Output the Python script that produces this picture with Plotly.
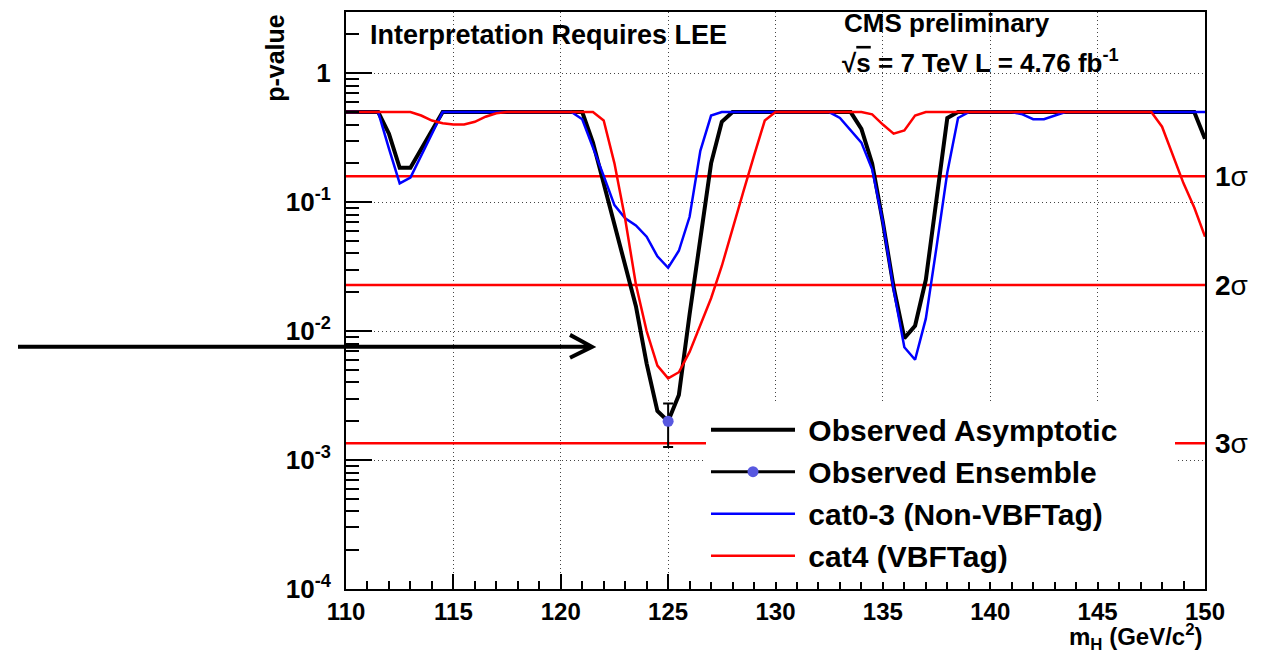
import math
import plotly.graph_objects as go

# Higgs mass hypotheses (GeV/c^2)
mass = [110.0, 110.5, 111.0, 111.5, 112.0, 112.5, 113.0, 113.5, 114.0, 114.5,
        115.0, 115.5, 116.0, 116.5, 117.0, 117.5, 118.0, 118.5, 119.0, 119.5,
        120.0, 120.5, 121.0, 121.5, 122.0, 122.5, 123.0, 123.5, 124.0, 124.5,
        125.0, 125.5, 126.0, 126.5, 127.0, 127.5, 128.0, 128.5, 129.0, 129.5,
        130.0, 130.5, 131.0, 131.5, 132.0, 132.5, 133.0, 133.5, 134.0, 134.5,
        135.0, 135.5, 136.0, 136.5, 137.0, 137.5, 138.0, 138.5, 139.0, 139.5,
        140.0, 140.5, 141.0, 141.5, 142.0, 142.5, 143.0, 143.5, 144.0, 144.5,
        145.0, 145.5, 146.0, 146.5, 147.0, 147.5, 148.0, 148.5, 149.0, 149.5,
        150.0]

obs_asymptotic = [0.5, 0.5, 0.5, 0.5, 0.34, 0.185, 0.185, 0.26, 0.36, 0.5,
                  0.5, 0.5, 0.5, 0.5, 0.5, 0.5, 0.5, 0.5, 0.5, 0.5,
                  0.5, 0.5, 0.5, 0.29, 0.14, 0.067, 0.032, 0.0156, 0.0056, 0.0024,
                  0.002, 0.0032, 0.0135, 0.055, 0.2, 0.42, 0.5, 0.5, 0.5, 0.5,
                  0.5, 0.5, 0.5, 0.5, 0.5, 0.5, 0.5, 0.5, 0.37, 0.2,
                  0.07, 0.022, 0.0088, 0.011, 0.025, 0.1, 0.45, 0.5, 0.5, 0.5,
                  0.5, 0.5, 0.5, 0.5, 0.5, 0.5, 0.5, 0.5, 0.5, 0.5,
                  0.5, 0.5, 0.5, 0.5, 0.5, 0.5, 0.5, 0.5, 0.5, 0.5,
                  0.31]

cat03_nonvbf = [0.5, 0.5, 0.5, 0.5, 0.26, 0.14, 0.155, 0.23, 0.34, 0.5,
                0.5, 0.5, 0.5, 0.5, 0.5, 0.5, 0.5, 0.5, 0.5, 0.5,
                0.5, 0.5, 0.44, 0.27, 0.16, 0.095, 0.075, 0.066, 0.054, 0.038,
                0.031, 0.042, 0.077, 0.25, 0.47, 0.5, 0.5, 0.5, 0.5, 0.5,
                0.5, 0.5, 0.5, 0.5, 0.5, 0.5, 0.45, 0.36, 0.29, 0.18,
                0.07, 0.021, 0.0075, 0.006, 0.0125, 0.045, 0.17, 0.45, 0.5, 0.5,
                0.5, 0.5, 0.5, 0.48, 0.44, 0.44, 0.47, 0.5, 0.5, 0.5,
                0.5, 0.5, 0.5, 0.5, 0.5, 0.5, 0.5, 0.5, 0.5, 0.5,
                0.5]

cat4_vbf = [0.5, 0.5, 0.5, 0.5, 0.5, 0.5, 0.5, 0.47, 0.43, 0.41,
            0.40, 0.40, 0.42, 0.46, 0.49, 0.5, 0.5, 0.5, 0.5, 0.5,
            0.5, 0.5, 0.5, 0.5, 0.43, 0.20, 0.074, 0.023, 0.01, 0.0054,
            0.0043, 0.0048, 0.0069, 0.011, 0.018, 0.032, 0.063, 0.12, 0.23, 0.43,
            0.5, 0.5, 0.5, 0.5, 0.5, 0.5, 0.5, 0.5, 0.5, 0.48,
            0.40, 0.34, 0.36, 0.47, 0.5, 0.5, 0.5, 0.5, 0.5, 0.5,
            0.5, 0.5, 0.5, 0.5, 0.5, 0.5, 0.5, 0.5, 0.5, 0.5,
            0.5, 0.5, 0.5, 0.5, 0.5, 0.5, 0.385, 0.23, 0.14, 0.091,
            0.054]

ens_mass = [125.0]
ens_p = [0.002]
ens_err_up = [0.00074]
ens_err_down = [0.00074]

sigma_labels = ["1σ", "2σ", "3σ"]
sigma_p = [0.1587, 0.02275, 0.00135]
x_range = [110, 150]

ytick_vals = [1e-4, 1e-3, 1e-2, 1e-1, 1]
ytick_text = ["10<sup>-4</sup>", "10<sup>-3</sup>", "10<sup>-2</sup>", "10<sup>-1</sup>", "1"]
yminor_vals = [m * 10 ** e for e in range(-4, 1) for m in range(2, 10)]

FONT = "Liberation Sans, Arial, Helvetica, sans-serif"
NB = "\u00a0"

# the page body adds an 8 px offset; margins compensate so the frame lands at
# x 346..1205, y 10..589 of the window
OFF = 8
ML, MT = 346 - OFF, 10 - OFF
PW, PH = 859, 579

fig = go.Figure()

for sp in sigma_p:
    fig.add_trace(go.Scatter(x=x_range, y=[sp, sp], mode="lines",
                             line=dict(color="#ff0000", width=2.5),
                             showlegend=False, hoverinfo="skip"))

fig.add_trace(go.Scatter(x=mass, y=obs_asymptotic, mode="lines",
                         name=NB + "Observed Asymptotic", legendgroup="a",
                         line=dict(color="black", width=4)))
fig.add_trace(go.Scatter(x=ens_mass, y=ens_p, mode="lines+markers",
                         name=NB + "Observed Ensemble", legendgroup="b",
                         line=dict(color="black", width=3),
                         marker=dict(color="#5858e0", size=11),
                         error_y=dict(type="data", array=ens_err_up,
                                      arrayminus=ens_err_down, color="black",
                                      thickness=2, width=5)))
fig.add_trace(go.Scatter(x=mass, y=cat03_nonvbf, mode="lines",
                         name=NB + "cat0-3 (Non-VBFTag)" + NB * 8, legendgroup="c",
                         line=dict(color="#0000ff", width=2.5)))
fig.add_trace(go.Scatter(x=mass, y=cat4_vbf, mode="lines",
                         name=NB + "cat4 (VBFTag)", legendgroup="d",
                         line=dict(color="#ff0000", width=2.5)))


def px2paper(px, py):
    return (px - 346) / PW, (589 - py) / PH


annotations = [
    dict(text="Interpretation Requires LEE", xref="paper", yref="paper",
         x=px2paper(368, 0)[0], y=px2paper(0, 33)[1], xanchor="left", yanchor="middle",
         showarrow=False,
         font=dict(size=27, family=FONT, color="black", weight="bold")),
    dict(text="CMS preliminary", xref="paper", yref="paper",
         x=px2paper(842, 0)[0], y=px2paper(0, 21)[1], xanchor="left", yanchor="middle",
         showarrow=False,
         font=dict(size=26, family=FONT, color="black", weight="bold")),
    dict(text="√<span style='text-decoration:overline'>s</span> = 7 TeV L = 4.76 fb<sup>-1</sup>",
         xref="paper", yref="paper",
         x=px2paper(840, 0)[0], y=px2paper(0, 60)[1], xanchor="left", yanchor="middle",
         showarrow=False,
         font=dict(size=26, family=FONT, color="black", weight="bold")),
    dict(text="p-value", xref="paper", yref="paper", textangle=-90,
         x=px2paper(275, 0)[0], y=px2paper(0, 56)[1], xanchor="center", yanchor="middle",
         showarrow=False,
         font=dict(size=25, family=FONT, color="black", weight="bold")),
    dict(text="m<sub>H</sub> (GeV/c<sup>2</sup>)", xref="paper", yref="paper",
         x=1.0, y=px2paper(0, 637)[1], xanchor="right", yanchor="middle", showarrow=False,
         font=dict(size=24, family=FONT, color="black", weight="bold")),
]
for lab, sp in zip(sigma_labels, sigma_p):
    annotations.append(dict(text="<b>" + lab[0] + "</b>" + lab[1], xref="paper", yref="y",
                            x=1.0, y=math.log10(sp), xanchor="left", yanchor="middle",
                            xshift=8, showarrow=False,
                            font=dict(size=28, family=FONT, color="black")))

# pointer arrow (drawn in paper coordinates)
tx, ty = px2paper(18, 346)
hx, hy = px2paper(592, 346)
a1x, a1y = px2paper(570, 334)
a2x, a2y = px2paper(570, 357)
shapes = [
    dict(type="path", xref="paper", yref="paper",
         path=f"M{tx},{ty} L{hx},{hy} M{a1x},{a1y} L{hx},{hy} L{a2x},{a2y}",
         line=dict(color="black", width=4))
]

fig.update_layout(
    width=1268, height=654,
    margin=dict(l=ML, r=1268 - ML - PW, t=MT, b=654 - MT - PH),
    paper_bgcolor="white", plot_bgcolor="white",
    font=dict(family=FONT, color="black"),
    annotations=annotations,
    shapes=shapes,
    legend=dict(x=px2paper(706, 0)[0], y=px2paper(0, 403)[1],
                xanchor="left", yanchor="top",
                bgcolor="white", borderwidth=0, tracegroupgap=0,
                itemwidth=84, traceorder="grouped",
                font=dict(size=30, family=FONT, color="black", weight="bold")),
    showlegend=True,
)

fig.update_xaxes(
    range=x_range, dtick=5, tick0=110,
    showline=True, linecolor="black", linewidth=2, mirror=True,
    ticks="inside", ticklen=15, tickwidth=1.5, tickcolor="black",
    tickfont=dict(size=24, family=FONT, color="black", weight="bold"),
    showgrid=True, gridcolor="#444444", gridwidth=1, griddash="1px,3px",
    minor=dict(dtick=1, ticks="inside", ticklen=8, tickwidth=1.5, tickcolor="black", showgrid=False),
    zeroline=False,
)
fig.update_yaxes(
    type="log", range=[-4, 0.475],
    tickvals=ytick_vals, ticktext=ytick_text,
    showline=True, linecolor="black", linewidth=2, mirror=True,
    ticks="inside", ticklen=26, tickwidth=1.5, tickcolor="black",
    ticklabelstandoff=8,
    tickfont=dict(size=26, family=FONT, color="black", weight="bold"),
    showgrid=True, gridcolor="#444444", gridwidth=1, griddash="1px,3px",
    minor=dict(tickvals=yminor_vals, ticks="inside", ticklen=13, tickwidth=1.5,
               tickcolor="black", showgrid=False),
    zeroline=False,
)

fig.write_html("out.html")
